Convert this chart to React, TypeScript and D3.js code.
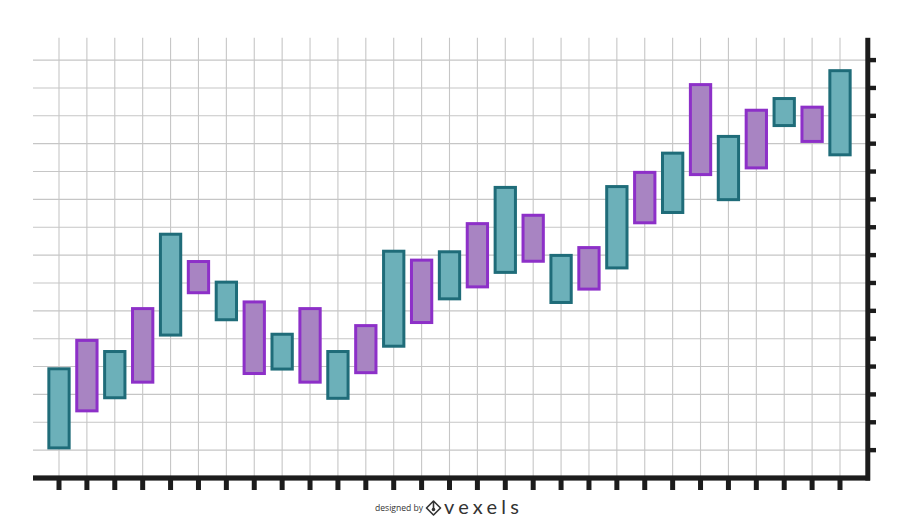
import { useEffect, useRef } from "react";
import * as d3 from "d3";

// one bar per column, low/high (1 unit = 1 grid row)
const periods = d3.range(1, 30).map((d) => `P${d}`);
const lows = [
  1.08, 2.41, 2.88, 3.44, 5.13, 6.65, 5.68, 3.75, 3.91, 3.44, 2.86, 3.78, 4.73, 5.58, 6.43,
  6.86, 7.38, 7.78, 6.3, 6.78, 7.54, 9.16, 9.53, 10.89, 9.99, 11.13, 12.65, 12.08, 11.6,
];
const highs = [
  3.92, 4.94, 4.54, 6.08, 8.75, 7.77, 7.03, 6.32, 5.16, 6.08, 4.54, 5.47, 8.14, 7.82, 8.12,
  9.13, 10.43, 9.43, 7.99, 8.27, 10.46, 10.97, 11.66, 14.12, 12.26, 13.2, 13.62, 13.31, 14.62,
];
const groups = [
  "teal", "purple", "teal", "purple", "teal", "purple", "teal", "purple", "teal", "purple",
  "teal", "purple", "teal", "purple", "teal", "purple", "teal", "purple", "teal", "purple",
  "teal", "purple", "teal", "purple", "teal", "purple", "teal", "purple", "teal",
];
const yTicks = d3.range(1, 16);

const fills: Record<string, string> = { teal: "#6cb0b9", purple: "#a884c2" };
const strokes: Record<string, string> = { teal: "#1f6c79", purple: "#8d30c8" };

export default function App() {
  const svgRef = useRef<SVGSVGElement>(null);

  useEffect(() => {
    if (!svgRef.current) return;
    const width = 900;
    const height = 529;
    const svg = d3.select(svgRef.current);
    svg.selectAll("*").remove();
    svg.attr("viewBox", `0 0 ${width} ${height}`);

    const x = d3.scalePoint<string>().domain(periods).range([59, 840]);
    const y = d3.scaleLinear().domain([0, 15.8]).range([478, 37.8]);
    const step = x.step();
    const barW = step * 0.728;

    const data = periods.map((p, i) => ({ p, lo: lows[i], hi: highs[i], g: groups[i] }));

    svg.append("rect").attr("width", width).attr("height", height).attr("fill", "#fff");

    // grid
    const grid = svg.append("g").attr("stroke", "#c6c6c6").attr("stroke-width", 1.1);
    grid
      .selectAll("line.h")
      .data(yTicks)
      .enter()
      .append("line")
      .attr("x1", 33)
      .attr("x2", 866)
      .attr("y1", (d) => y(d))
      .attr("y2", (d) => y(d));
    grid
      .selectAll("line.v")
      .data(periods)
      .enter()
      .append("line")
      .attr("x1", (d) => x(d)!)
      .attr("x2", (d) => x(d)!)
      .attr("y1", y(15.8))
      .attr("y2", y(0));

    // bars
    svg
      .append("g")
      .selectAll("rect")
      .data(data)
      .enter()
      .append("rect")
      .attr("x", (d) => x(d.p)! - barW / 2)
      .attr("width", barW)
      .attr("y", (d) => y(d.hi))
      .attr("height", (d) => y(d.lo) - y(d.hi))
      .attr("fill", (d) => fills[d.g])
      .attr("stroke", (d) => strokes[d.g])
      .attr("stroke-width", 3);

    // axes
    const axis = svg.append("g").attr("fill", "#1c1c1c");
    axis.append("rect").attr("x", 33).attr("y", y(0) - 2.6).attr("width", 837).attr("height", 5.2);
    axis.append("rect").attr("x", 865.3).attr("y", y(15.8)).attr("width", 5).attr("height", y(0) - y(15.8) + 2.6);
    axis
      .selectAll("rect.bt")
      .data(periods)
      .enter()
      .append("rect")
      .attr("x", (d) => x(d)! - 2.5)
      .attr("y", y(0))
      .attr("width", 5)
      .attr("height", 12);
    axis
      .selectAll("rect.rt")
      .data(yTicks)
      .enter()
      .append("rect")
      .attr("x", 868)
      .attr("y", (d) => y(d) - 2.2)
      .attr("width", 8)
      .attr("height", 4.4);

    // watermark
    const wm = svg.append("g").attr("fill", "#333");
    wm.append("text")
      .attr("x", 375)
      .attr("y", 511)
      .attr("font-family", "'Open Sans', sans-serif")
      .attr("font-size", 8.6)
      .text("designed by");
    const logo = wm.append("g").attr("transform", "translate(433.5,508)");
    logo
      .append("path")
      .attr("d", "M0,-7L7,0L0,7L-7,0Z")
      .attr("fill", "none")
      .attr("stroke", "#333")
      .attr("stroke-width", 1.6)
      .attr("stroke-linejoin", "round");
    logo.append("line").attr("x1", 0).attr("x2", 0).attr("y1", -5).attr("y2", 1).attr("stroke", "#333").attr("stroke-width", 1.6);
    logo.append("circle").attr("cx", 0).attr("cy", 1.5).attr("r", 1.8);
    wm.append("text")
      .attr("x", 444)
      .attr("y", 513.5)
      .attr("font-family", "Lato, sans-serif")
      .attr("font-weight", 400)
      .attr("font-size", 20)
      .attr("letter-spacing", 4.2)
      .text("vexels");
  }, []);

  return (
    <div style={{ position: "absolute", left: 0, top: 0, width: 900, height: 529 }}>
      <svg ref={svgRef} width={900} height={529} style={{ display: "block" }} />
    </div>
  );
}
